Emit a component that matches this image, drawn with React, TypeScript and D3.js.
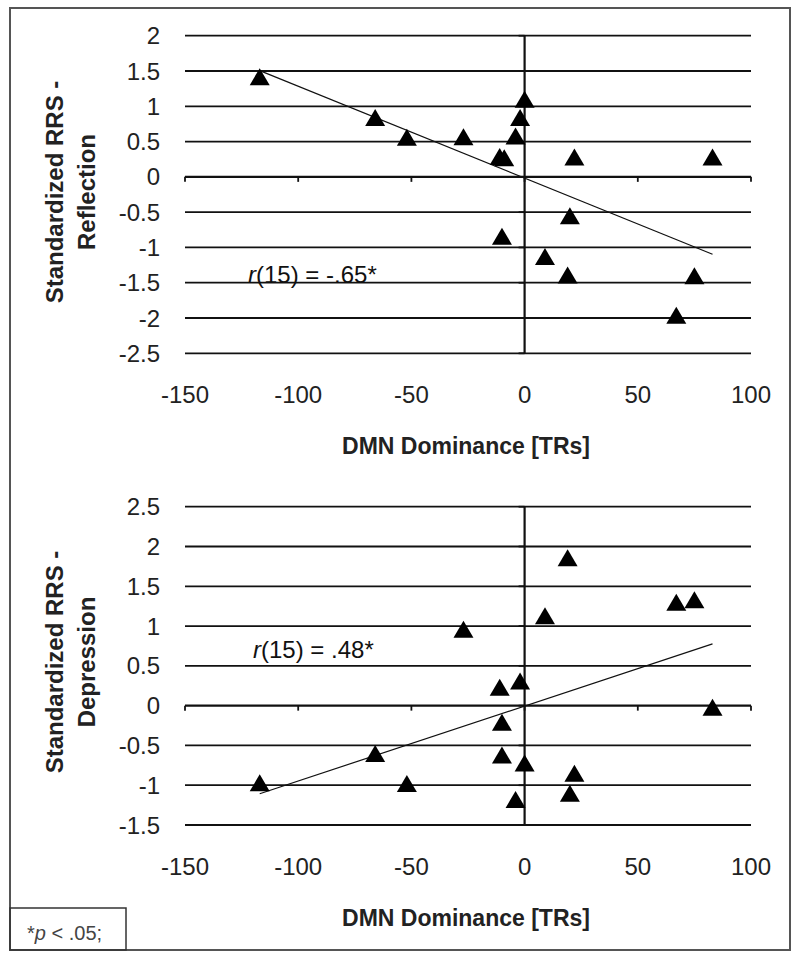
import React from 'react';
import * as d3 from 'd3';

// DMN dominance (TRs) per participant, and standardized RRS scores
const reflectionX = [-117, -66, -52, -27, -11, -9, -4, -2, 0, 22, 83, 20, -10, 9, 19, 75, 67];
const reflectionY = [1.42, 0.84, 0.56, 0.57, 0.29, 0.27, 0.58, 0.84, 1.1, 0.28, 0.28, -0.55, -0.84, -1.13, -1.39, -1.4, -1.96];

const depressionX = [-117, -66, -52, -27, 9, 19, 67, 75, 83, -11, -2, -10, -10, 0, 22, 20, -4];
const depressionY = [-0.97, -0.6, -0.98, 0.96, 1.13, 1.86, 1.3, 1.33, -0.02, 0.23, 0.31, -0.21, -0.62, -0.72, -0.85, -1.1, -1.18];

const xTicks = [-150, -100, -50, 0, 50, 100];
const reflectionTicks = [2, 1.5, 1, 0.5, 0, -0.5, -1, -1.5, -2, -2.5];
const depressionTicks = [2.5, 2, 1.5, 1, 0.5, 0, -0.5, -1, -1.5];

const FONT = '"Liberation Sans", Arial, sans-serif';

// least-squares trend line
const fit = (xs: number[], ys: number[]) => {
  const mx = d3.mean(xs)!;
  const my = d3.mean(ys)!;
  const sxy = d3.sum(xs, (x, i) => (x - mx) * (ys[i] - my));
  const sxx = d3.sum(xs, (x) => (x - mx) * (x - mx));
  const b = sxy / sxx;
  return { b, a: my - b * mx };
};

const tri = (cx: number, cy: number) =>
  `M${cx},${cy - 8.5}L${cx + 10},${cy + 8.5}L${cx - 10},${cy + 8.5}Z`;

interface PanelProps {
  xs: number[];
  ys: number[];
  yTicks: number[];
  top: number;
  bottom: number;
  titleLines: string[];
  titleY: number;
  stat: string;
  statX: number;
  statY: number;
}

const Panel: React.FC<PanelProps> = ({ xs, ys, yTicks, top, bottom, titleLines, titleY, stat, statX, statY }) => {
  const x = d3.scaleLinear().domain([-150, 100]).range([185, 751]);
  const y = d3.scaleLinear().domain([d3.min(yTicks)!, d3.max(yTicks)!]).range([bottom, top]);
  const { a, b } = fit(xs, ys);
  const [x0, x1] = d3.extent(xs) as [number, number];
  const line = d3.line<number>().x((d) => x(d)).y((d) => y(a + b * d));

  return (
    <g>
      {yTicks.map((t) => (
        <g key={t}>
          <line x1={x(-150)} x2={x(100)} y1={y(t)} y2={y(t)} stroke="#111" strokeWidth={t === 0 ? 2.4 : 1.8} />
          <line x1={x(0) - 6} x2={x(0)} y1={y(t)} y2={y(t)} stroke="#111" strokeWidth={1.8} />
          <text x={160} y={y(t)} dy="0.36em" textAnchor="end" fontSize={24} fill="#222">
            {String(t)}
          </text>
        </g>
      ))}
      <line x1={x(0)} x2={x(0)} y1={y(d3.max(yTicks)!)} y2={y(d3.min(yTicks)!)} stroke="#111" strokeWidth={2.2} />
      {xTicks.map((t) => (
        <g key={t}>
          <line x1={x(t)} x2={x(t)} y1={y(0)} y2={y(0) + 5} stroke="#111" strokeWidth={1.8} />
          <text x={x(t)} y={bottom + 50} textAnchor="middle" fontSize={24} fill="#222">
            {String(t)}
          </text>
        </g>
      ))}
      <path d={line([x0, x1]) || ''} fill="none" stroke="#111" strokeWidth={1.2} />
      {xs.map((v, i) => (
        <path key={i} d={tri(x(v), y(ys[i]))} fill="#000" />
      ))}
      <text x={statX} y={statY} fontSize={24} fill="#111">
        <tspan fontStyle="italic">r</tspan>
        {stat}
      </text>
      <text x={466} y={bottom + 101} textAnchor="middle" fontSize={23} fontWeight="bold" fill="#222">
        DMN Dominance [TRs]
      </text>
      <text transform={`translate(55,${titleY}) rotate(-90)`} textAnchor="middle" fontSize={24} fontWeight="bold" fill="#222">
        {titleLines.map((l, i) => (
          <tspan key={i} x={0} dy={i === 0 ? '0.35em' : 32}>
            {l}
          </tspan>
        ))}
      </text>
    </g>
  );
};

export default function App() {
  return (
    <svg width={800} height={961} style={{ position: 'absolute', left: 0, top: 0, background: '#fff' }} fontFamily={FONT}>
      <rect x={0} y={0} width={800} height={961} fill="#fff" />
      <rect x={10} y={8} width={780} height={942} fill="none" stroke="#555" strokeWidth={2} />
      <Panel
        xs={reflectionX}
        ys={reflectionY}
        yTicks={reflectionTicks}
        top={35.7}
        bottom={353.3}
        titleLines={['Standardized RRS -', 'Reflection']}
        titleY={192}
        stat="(15) = -.65*"
        statX={248}
        statY={283}
      />
      <Panel
        xs={depressionX}
        ys={depressionY}
        yTicks={depressionTicks}
        top={506.7}
        bottom={825}
        titleLines={['Standardized RRS -', 'Depression']}
        titleY={662}
        stat="(15) = .48*"
        statX={253}
        statY={658}
      />
      <rect x={10} y={908} width={116} height={42} fill="none" stroke="#333" strokeWidth={1.5} />
      <text x={27} y={940} fontSize={20} fill="#444">
        *<tspan fontStyle="italic">p</tspan> &lt; .05;
      </text>
    </svg>
  );
}
